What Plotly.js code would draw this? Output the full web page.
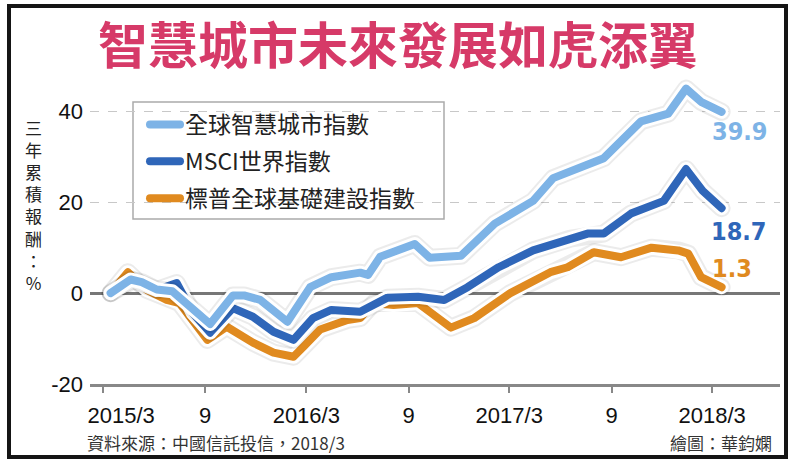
<!DOCTYPE html>
<html>
<head>
<meta charset="utf-8">
<script src="https://cdn.plot.ly/plotly-3.0.1.min.js"></script>
<style>
body{margin:0;background:#fff;}
#wrap{position:relative;width:800px;height:467px;}
#frame{position:absolute;left:7px;top:4px;width:773px;height:447px;border:4px solid #151515;pointer-events:none;}
.js-line{stroke-linejoin:round;stroke-linecap:round;}
</style>
</head>
<body>
<div id="wrap">
<div id="myDiv" style="width:800px;height:467px;"></div>
<div id="frame"></div>
</div>
<script>
// 全球智慧城市指數
var cityDates = ['2015-03-15','2015-04-20','2015-05-10','2015-06-06','2015-07-04','2015-09-10','2015-10-21','2015-11-10','2015-12-09','2016-01-27','2016-03-08','2016-04-15','2016-06-06','2016-06-20','2016-07-12','2016-09-12','2016-10-09','2016-12-04','2017-02-03','2017-04-13','2017-05-19','2017-06-25','2017-08-18','2017-10-24','2017-12-12','2018-01-13','2018-02-09','2018-03-18'];
var cityVals = [0,3.0,2.4,0.8,0.4,-6.8,-0.5,-0.5,-1.5,-6.3,1.3,3.5,4.5,4.0,8.0,10.8,7.8,8.2,15.3,20.3,25.3,26.9,29.7,37.8,39.5,45.0,42.1,39.9];

// MSCI世界指數
var msciDates = ['2015-03-15','2015-04-24','2015-06-06','2015-07-12','2015-08-10','2015-09-10','2015-10-21','2015-11-26','2016-01-02','2016-02-07','2016-03-13','2016-04-15','2016-06-06','2016-07-25','2016-09-18','2016-11-04','2016-12-16','2017-02-10','2017-04-13','2017-06-19','2017-07-20','2017-08-18','2017-10-06','2017-12-04','2018-01-13','2018-02-12','2018-03-18'];
var msciVals = [0,2.8,0.7,2.2,-4.4,-8.7,-3.3,-5.2,-8.5,-10.3,-5.5,-3.7,-4.1,-1.0,-0.8,-1.5,1.3,5.7,9.4,12.0,13.1,13.1,17.5,20.3,27.3,22.5,18.7];

// 標普全球基礎建設指數
var infraDates = ['2015-03-15','2015-04-15','2015-05-19','2015-06-24','2015-07-17','2015-09-05','2015-10-10','2015-11-26','2016-01-02','2016-02-07','2016-02-25','2016-03-26','2016-05-14','2016-06-06','2016-06-30','2016-08-05','2016-09-18','2016-11-16','2016-12-28','2017-03-03','2017-05-14','2017-06-14','2017-07-31','2017-09-18','2017-11-12','2017-12-30','2018-01-17','2018-02-09','2018-03-18'];
var infraVals = [0,4.6,0.7,-1.5,-2.2,-10.3,-7.4,-10.9,-13.1,-14.0,-11.8,-8.0,-5.9,-5.5,-2.2,-2.6,-2.2,-7.6,-5.5,0.0,4.6,5.7,9.0,7.9,10.0,9.4,8.7,3.5,1.3];

var seriesNames = ['全球智慧城市指數','MSCI世界指數','標普全球基礎建設指數'];
var endLabels = ['39.9','18.7','1.3'];

var tickVals = ['2015-03-01','2015-09-01','2016-03-01','2016-09-01','2017-03-01','2017-09-01','2018-03-01'];
var tickText = ['2015/3','9','2016/3','9','2017/3','9','2018/3'];

var yLabelChars = ['三','年','累','積','報','酬','：','%'];

var lightBlue = '#7db3e6';
var darkBlue = '#2f66b9';
var orange = '#e08a1f';

function makeLine(x, y, name, color, rank){
	return [
		{x:x, y:y, type:'scatter', mode:'lines', hoverinfo:'skip', showlegend:false,
		 line:{color:'rgba(0,0,0,0.08)', width:18}},
		{x:x, y:y, type:'scatter', mode:'lines', hoverinfo:'skip', showlegend:false,
		 line:{color:'#ffffff', width:14}},
		{x:x, y:y, type:'scatter', mode:'lines', name:name, legendrank:rank, legendgroup:name,
		 line:{color:color, width:8}}
	];
}

var data = [].concat(
	makeLine(infraDates, infraVals, seriesNames[2], orange, 3),
	makeLine(msciDates, msciVals, seriesNames[1], darkBlue, 2),
	makeLine(cityDates, cityVals, seriesNames[0], lightBlue, 1)
);

// plot area in pixels: left 90, right 780, top 75, bottom 384
function px2paperX(p){ return (p - 90) / 690; }
function px2paperY(p){ return (384 - p) / 309; }

var annotations = [];
annotations.push({
	xref:'paper', yref:'paper', x:px2paperX(33), y:px2paperY(205),
	xanchor:'center', yanchor:'middle', showarrow:false,
	text:yLabelChars.join('<br>'), font:{family:'Noto Sans CJK TC', size:17, color:'#222'}
});

var ends = [
	{x:cityDates[cityDates.length-1], y:cityVals[cityVals.length-1], c:lightBlue, dx:18, dy:-20},
	{x:msciDates[msciDates.length-1], y:msciVals[msciVals.length-1], c:darkBlue, dx:17, dy:-23},
	{x:infraDates[infraDates.length-1], y:infraVals[infraVals.length-1], c:orange, dx:10, dy:19}
];
ends.forEach(function(e, k){
	annotations.push({
		x:e.x, y:e.y, xref:'x', yref:'y', showarrow:false, xshift:e.dx, yshift:e.dy,
		xanchor:'center', yanchor:'middle', text:endLabels[k],
		font:{family:'DejaVu Sans Condensed, Liberation Sans Narrow, sans-serif', size:25, color:e.c, weight:'bold', stretch:'condensed'}
	});
});

annotations.push({
	xref:'paper', yref:'paper', x:px2paperX(85), y:px2paperY(442), xanchor:'left', yanchor:'middle',
	showarrow:false, text:'資料來源：中國信託投信，2018/3',
	font:{family:'Noto Sans CJK TC', size:17, color:'#333'}
});
annotations.push({
	xref:'paper', yref:'paper', x:px2paperX(774), y:px2paperY(442), xanchor:'right', yanchor:'middle',
	showarrow:false, text:'繪圖：華鈞嫻',
	font:{family:'Noto Sans CJK TC', size:17, color:'#333'}
});

var layout = {
	width:800, height:467, autosize:false,
	margin:{l:90, r:20, t:75, b:83},
	paper_bgcolor:'#fff', plot_bgcolor:'#fff',
	font:{family:'Liberation Sans, Noto Sans CJK TC', color:'#111'},
	title:{
		text:'智慧城市未來發展如虎添翼',
		xref:'container', yref:'container', x:0.4975, y:1-46/467,
		xanchor:'center', yanchor:'middle',
		font:{family:'Noto Sans CJK TC', size:50, color:'#d63a68', weight:'bold'}
	},
	xaxis:{
		type:'date', range:['2015-02-06','2018-07-01'],
		tickvals:tickVals,
		ticktext:tickText.map(function(t, i){ return i == 0 ? '\u00a0\u00a0\u00a0\u00a0\u00a0\u00a0' + t : t; }),
		ticks:'outside', ticklen:6, tickwidth:2, tickcolor:'#888',
		showline:true, linecolor:'#888', linewidth:3,
		showgrid:false, zeroline:false,
		tickfont:{size:22, color:'#111'},
		ticklabelstandoff:4
	},
	yaxis:{
		range:[-20, 48], tickvals:[-20,0,20,40], ticktext:['-20','0','20','40'],
		showgrid:true, gridcolor:'#c8c8c8', gridwidth:1, griddash:'dash',
		zeroline:true, zerolinecolor:'#777', zerolinewidth:3,
		showline:false, ticks:'', tickfont:{size:22, color:'#111'},
		ticklabelstandoff:6, fixedrange:true
	},
	shapes:[{
		type:'rect', xref:'paper', yref:'paper', layer:'between',
		x0:px2paperX(133), x1:px2paperX(444), y0:px2paperY(219), y1:px2paperY(102),
		fillcolor:'#fff', line:{color:'#aaa', width:1.5}
	}],
	showlegend:true,
	legend:{
		x:px2paperX(145), y:px2paperY(103), xanchor:'left', yanchor:'top',
		bgcolor:'rgba(0,0,0,0)', borderwidth:0,
		font:{family:'Noto Sans CJK TC', size:23, color:'#222'},
		traceorder:'grouped', tracegroupgap:4, itemwidth:30
	},
	annotations:annotations
};

Plotly.newPlot('myDiv', data, layout, {displayModeBar:false, staticPlot:true});
</script>
</body>
</html>
